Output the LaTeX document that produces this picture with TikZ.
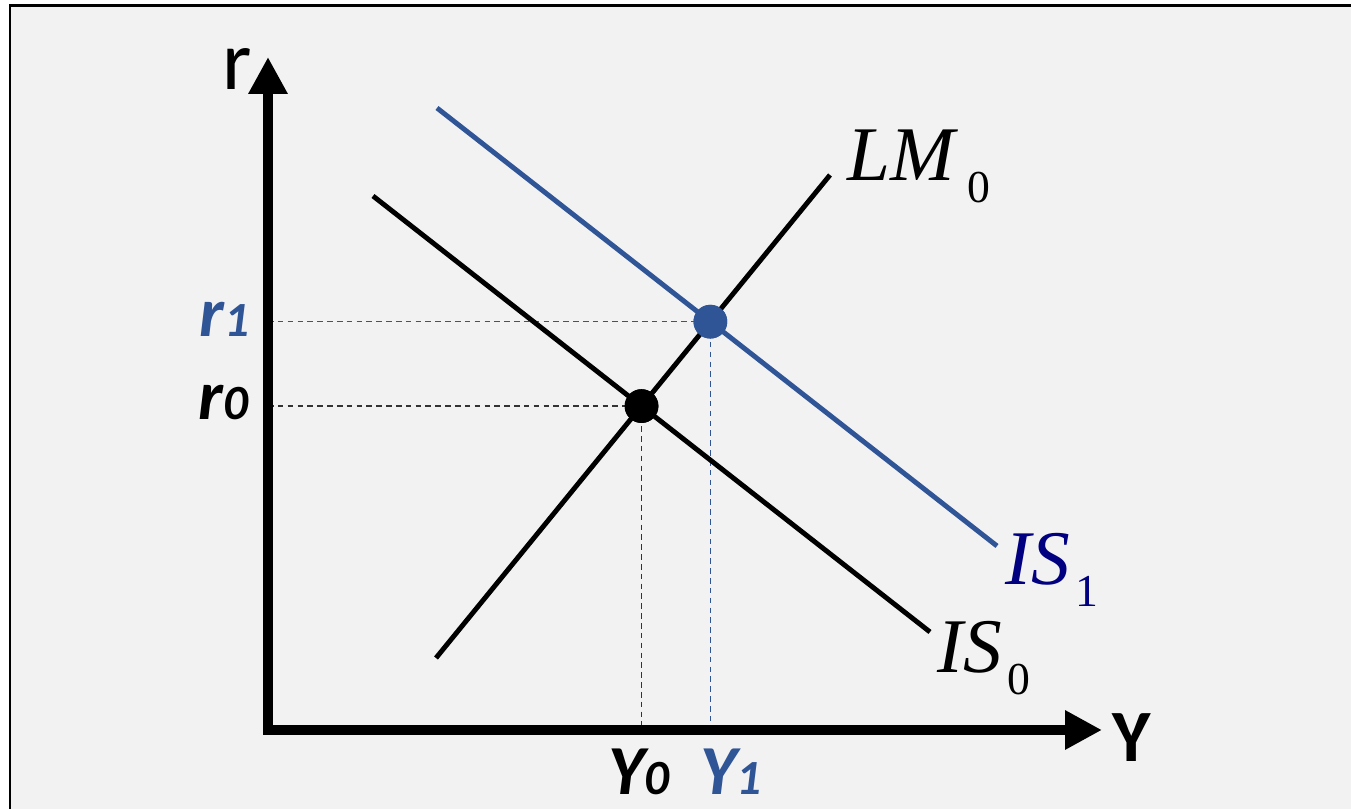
\documentclass[tikz,border=0pt]{standalone}
\usepackage{fontspec}
\setmainfont{Liberation Serif}
\setsansfont{Carlito}
\usepackage{xcolor}
\usepackage{tikz}
\usetikzlibrary{arrows.meta,positioning}
\definecolor{shiftBlue}{HTML}{2F5597}
\definecolor{labelNavy}{HTML}{000080}
\definecolor{panelGray}{HTML}{F2F2F2}

\begin{document}
\begin{tikzpicture}[
        axis/.style={line width=2.8pt, {Triangle[length=10.5pt,width=10.5pt]}-{Triangle[length=10.5pt,width=10.5pt]}},
        curve/.style={line width=1.4pt},
        guide/.style={line width=0.35pt, dash pattern=on 1.6pt off 1.2pt},
        eqdot/.style={circle, fill, inner sep=0pt, minimum size=9.6pt},
        axlabel/.style={font=\sffamily\fontsize{24}{24}\selectfont, inner sep=0pt},
        ticklabel/.style={font=\sffamily\bfseries\itshape\fontsize{20}{20}\selectfont, inner sep=0pt},
        curvelabel/.style={font=\fontsize{22}{22}\selectfont, inner sep=0pt, anchor=base west}
    ]
        \useasboundingbox (0,0) rectangle (13.51,8.09);
        \fill[white] (0,0) rectangle (13.51,8.09);
        \draw[fill=panelGray, line width=0.85pt] (0.10,-0.5) rectangle (14.0,8.03);

        % axes
        \coordinate (O) at (2.68,0.79);
        \coordinate (ytip) at (2.68,7.52);
        \coordinate (xtip) at (11.02,0.79);

        % curve end points
        \coordinate (lm-a) at (4.36,1.51);
        \coordinate (lm-b) at (8.30,6.34);
        \coordinate (is0-a) at (3.73,6.13);
        \coordinate (is0-b) at (9.30,1.77);
        \coordinate (is1-a) at (4.37,7.01);
        \coordinate (is1-b) at (9.97,2.63);

        \node[eqdot] (e0) at (intersection of lm-a--lm-b and is0-a--is0-b) {};
        \node[eqdot, fill=shiftBlue] (e1) at (intersection of lm-a--lm-b and is1-a--is1-b) {};

        % guides to the axes
        \draw[guide, black!80] (O |- e0) -- (e0.center) -- (e0 |- O);
        \draw[guide, shiftBlue] (O |- e1) -- (e1.center) -- (e1 |- O);

        \draw[curve] (lm-a) -- (lm-b);
        \draw[curve] (is0-a) -- (is0-b);
        \draw[curve, shiftBlue] (is1-a) -- (is1-b);
        \node[eqdot] at (e0) {};
        \node[eqdot, fill=shiftBlue] at (e1) {};

        \draw[axis] (ytip) -- (O) -- (xtip);

        \node[axlabel] (rlab) at (2.37,7.40) {r};
        \node[axlabel, font=\sffamily\bfseries\fontsize{21}{21}\selectfont] (ylab) at (11.32,0.71) {Y};

        \node[ticklabel, anchor=base east] (r0lab) at (2.49,3.89) {r{\fontsize{14}{14}\selectfont 0}};
        \node[ticklabel, anchor=base east, text=shiftBlue] (r1lab) at (2.50,4.72) {r{\fontsize{14}{14}\selectfont 1}};
        \node[ticklabel, anchor=base] (y0lab) at (6.39,0.14) {Y{\fontsize{14}{14}\selectfont 0}};
        \node[ticklabel, anchor=base, text=shiftBlue] (y1lab) at (7.31,0.14) {Y{\fontsize{14}{14}\selectfont 1}};

        \node[curvelabel] (lmlab) at (8.47,6.28) {\textit{LM}\hspace{2.5pt}{\fontsize{13}{13}\selectfont\raisebox{-6pt}{0}}};
        \node[curvelabel] (is0lab) at (9.37,1.36) {\textit{IS}\hspace{1.5pt}{\fontsize{13}{13}\selectfont\raisebox{-6pt}{0}}};
        \node[curvelabel, text=labelNavy] (is1lab) at (10.05,2.24) {\textit{IS}\hspace{1.5pt}{\fontsize{13}{13}\selectfont\raisebox{-6pt}{1}}};
    \end{tikzpicture}
\end{document}
